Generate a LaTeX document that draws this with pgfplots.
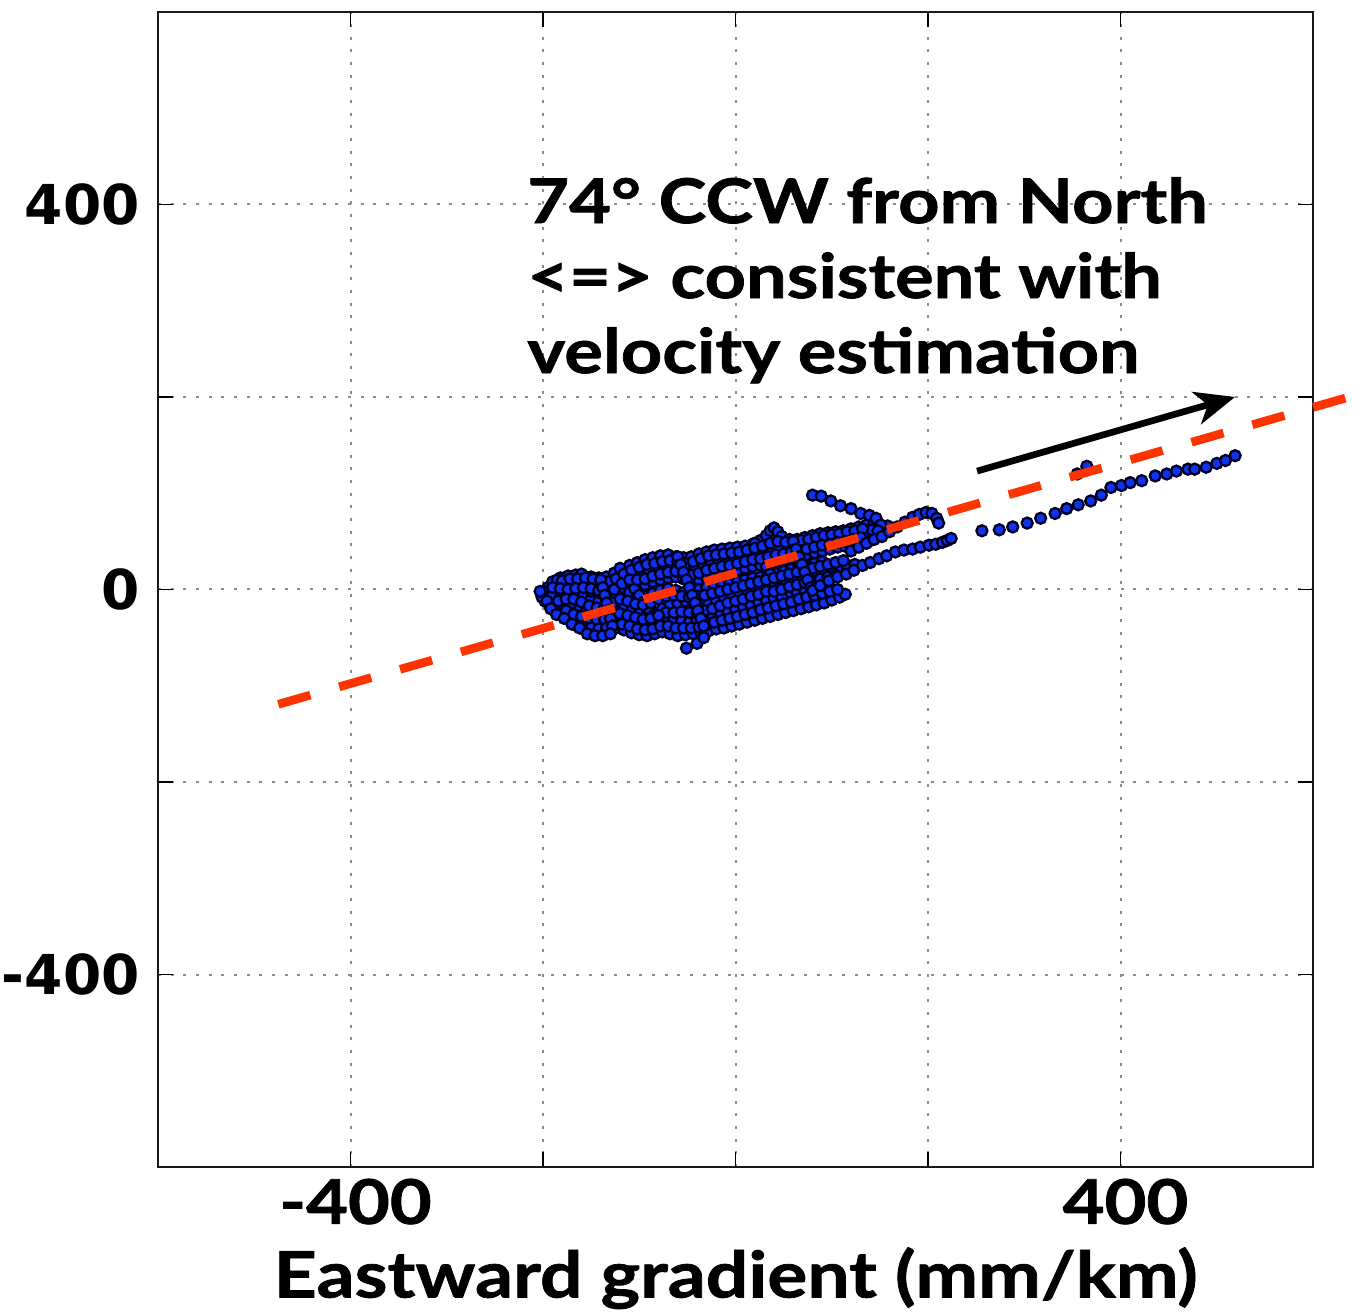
\documentclass[border=0pt]{standalone}
\usepackage{fontspec}
\setmainfont{Lato}[FakeStretch=1.17, BoldFeatures={FakeBold=1.2}]
\newfontfamily\dejavu{DejaVu Sans}
\usepackage{pgfplots}
\pgfplotsset{compat=1.18}
\usetikzlibrary{arrows.meta}
\definecolor{dotblue}{RGB}{15,50,240}
\definecolor{dotedge}{RGB}{0,0,35}
\definecolor{redline}{RGB}{255,51,0}
\begin{document}
\begin{tikzpicture}
\useasboundingbox (-47.4pt,-43.5pt) rectangle (358.5pt,350.1pt);
\begin{axis}[
  width=346.5pt, height=346.5pt, scale only axis,
  xmin=-600, xmax=600, ymin=-600, ymax=600,
  clip=false,
  xtick={-400,-200,0,200,400},
  xticklabels={-400,{},{},{},400},
  ytick={-400,-200,0,200,400},
  yticklabels={-400,{},0,{},400},
  tick align=inside, major tick length=4.5pt,
  tick style={black, line width=0.45pt},
  axis line style={line width=0.8pt, black!90},
  grid=major,
  major grid style={gray!90, line width=0.6pt, dash pattern=on 0.9pt off 2.9pt},
  xticklabel style={font=\fontsize{18.5}{20}\selectfont\bfseries, xshift=1.5pt},
  yticklabel style={font=\dejavu\fontsize{16.5}{18}\selectfont\bfseries, xshift=-2pt},
  xlabel={Eastward gradient (mm/km)},
  xlabel style={font=\fontsize{19.2}{21}\selectfont\bfseries},
]
\addplot[only marks, mark=*, mark size=1.65pt, mark options={fill=dotblue, draw=dotedge, line width=0.7pt}] coordinates {
(-195,2) (-190,8) (-182,12) (-174,14) (-166,15) (-158,14) (-150,13) (-142,12) (-134,13) (-126,17) (-118,21) (-110,25) (-102,28) (-94,31) (-86,33) (-78,35) (-70,36) (-62,34) (-54,33) (-46,34) (-38,37) (-30,39) (-22,41) (-14,42) (-6,43) (2,44) (10,45) (18,47) (26,51) (32,56) (36,61) (40,64) (44,60) (48,55) (56,52) (64,52) (72,54) (80,56) (88,58) (96,59) (104,60) (112,61) (120,63) (128,65) (136,67) (144,69)
(-200,-5) (-198,-12) (-192,-18) (-184,-22) (-176,-26) (-170,-32) (-164,-38) (-156,-42) (-148,-44) (-140,-45) (-132,-43) (-124,-40) (-116,-42) (-108,-45) (-100,-47) (-92,-48) (-84,-46) (-76,-44) (-68,-46) (-60,-48) (-52,-47) (-44,-46) (-36,-45) (-28,-43) (-20,-41) (-12,-40) (-4,-38) (4,-36) (12,-34) (20,-32) (28,-30) (36,-28) (44,-26) (52,-24) (60,-22) (68,-20) (76,-18) (84,-16) (92,-14) (100,-11) (108,-8) (114,-5)
(-185,10) (-178,6) (-170,4) (-162,6) (-154,9) (-146,8) (-138,5) (-130,3) (-122,6) (-114,10) (-106,14) (-98,17) (-90,20) (-82,22) (-74,24) (-66,25) (-58,24) (-50,22) (-42,24) (-34,27) (-26,30) (-18,31) (-10,32) (-2,33) (6,35) (14,37) (22,39) (30,40) (38,42) (46,44) (54,45) (62,46) (70,47) (78,48) (86,50) (94,52) (102,53) (110,55) (118,56) (126,58) (134,60) (142,62) (150,64) (158,66)
(-196,-2) (-190,-6) (-182,-8) (-174,-6) (-166,-4) (-158,-6) (-150,-10) (-142,-12) (-134,-10) (-126,-6) (-118,-2) (-110,1) (-102,3) (-94,5) (-86,8) (-78,10) (-70,12) (-62,13) (-54,11) (-46,9) (-38,10) (-30,12) (-22,14) (-14,16) (-6,18) (2,20) (10,22) (18,24) (26,25) (34,27) (42,29) (50,30) (58,32) (66,34) (74,36) (82,38) (90,40) (98,42) (106,44) (114,45) (122,46) (130,48) (138,50)
(-188,-16) (-180,-14) (-172,-16) (-164,-20) (-156,-24) (-148,-27) (-140,-28) (-132,-26) (-124,-22) (-116,-20) (-108,-22) (-100,-25) (-92,-26) (-84,-24) (-76,-20) (-68,-16) (-60,-14) (-52,-12) (-44,-14) (-36,-16) (-28,-15) (-20,-12) (-12,-9) (-4,-6) (4,-3) (12,0) (20,2) (28,4) (36,6) (44,8) (52,10) (60,12) (68,14) (76,15) (84,17) (92,19) (100,21) (108,22) (116,24) (124,26)
(-160,-34) (-152,-36) (-144,-37) (-136,-36) (-128,-32) (-120,-30) (-112,-32) (-104,-35) (-96,-37) (-88,-36) (-80,-33) (-72,-30) (-64,-31) (-56,-33) (-48,-34) (-40,-32) (-32,-29) (-24,-26) (-16,-24) (-8,-22) (0,-20) (8,-18) (16,-16) (24,-13) (32,-11) (40,-9) (48,-7) (56,-5) (64,-3) (72,-1) (80,1) (88,3) (96,5)
(-150,-2) (-142,-3) (-134,0) (-126,3) (-118,2) (-110,-3) (-102,-7) (-94,-7) (-86,-4) (-78,-1) (-70,1) (-62,-1) (-54,-3) (-46,-2) (-38,0) (-30,2) (-22,3) (-14,4) (-6,6) (2,8) (10,10) (18,12) (26,13) (34,15) (42,17) (50,19) (58,21) (66,23) (74,25) (82,27) (90,29)
(-72,-24) (-64,-24) (-56,-23) (-48,-24) (-40,-24) (-32,-22) (-24,-20) (-16,-17) (-8,-14) (0,-12) (8,-10) (16,-7) (24,-5) (32,-2)
(-120,22) (-115,15) (-110,8) (-105,1) (-100,-6) (-95,-13) (-90,-20) (-85,-27) (-80,-33)
(20,48) (24,40) (28,32) (32,24) (36,16) (40,8) (44,0) (48,-8)
(-160,16) (-164,10) (-166,4) (-168,-3) (-170,-10) (-172,-17) (-172,-24)
(-180,9) (-172,11) (-164,11) (-156,12) (-148,11) (-140,9) (-132,8) (-124,11) (-116,16) (-108,20) (-100,23) (-92,26) (-84,27) (-76,29) (-68,30) (-60,29) (-52,27) (-44,29) (-36,32) (-28,35) (-20,36) (-12,37) (-4,38) (4,39) (12,41) (20,43) (28,45) (36,48) (44,50) (52,49) (60,50) (68,51) (76,52) (84,54) (92,56) (100,57) (108,58) (116,60) (124,61) (132,63)
(-190,2) (-182,1) (-174,0) (-166,1) (-158,2) (-150,1) (-142,-1) (-134,-3) (-126,0) (-118,6) (-110,10) (-102,10) (-94,11) (-86,14) (-78,16) (-70,18) (-62,19) (-54,17) (-46,15) (-38,17) (-30,20) (-22,22) (-14,24) (-6,25) (2,27) (10,29) (18,31) (26,32) (34,34) (42,36) (50,37) (58,39) (66,40) (74,42) (82,44) (90,46) (98,47) (106,49) (114,50) (122,52) (130,54)
(-184,-12) (-176,-10) (-168,-10) (-160,-13) (-152,-17) (-144,-19) (-136,-18) (-128,-14) (-120,-10) (-112,-12) (-104,-15) (-96,-16) (-88,-14) (-80,-10) (-72,-7) (-64,-6) (-56,-7) (-48,-8) (-40,-7) (-32,-6) (-24,-4) (-16,-2) (-8,0) (0,2) (8,4) (16,6) (24,8) (32,10) (40,12) (48,14) (56,16) (64,18) (72,20) (80,22) (88,24) (96,26) (104,28) (112,30)
(-176,-22) (-168,-26) (-160,-28) (-152,-30) (-144,-32) (-136,-31) (-128,-28) (-120,-25) (-112,-27) (-104,-29) (-96,-31) (-88,-30) (-80,-27)
(40,-2) (48,0) (56,3) (64,5) (72,7) (80,9) (88,11) (96,13) (104,15)
(-150,-40) (-142,-41) (-134,-40) (-126,-37) (-118,-36) (-110,-38) (-102,-41) (-94,-42) (-86,-41) (-78,-38) (-70,-38) (-62,-40) (-54,-40) (-46,-40) (-38,-39) (-30,-36) (-22,-34) (-14,-32) (-6,-30) (2,-28) (10,-26) (18,-24) (26,-21) (34,-19) (42,-17) (50,-15) (58,-13) (66,-10) (74,-8) (82,-6) (90,-4) (98,-2) (106,0)
(-60,34) (-57,26) (-54,18) (-51,10) (-48,2) (-45,-6) (-42,-14) (-39,-22) (-36,-30) (-33,-38)
(60,50) (63,42) (66,34) (69,26) (72,18) (75,10) (78,2)
(-140,10) (-138,2) (-136,-6) (-134,-14) (-132,-22) (-130,-30) (-128,-38)
(80,98) (89,97) (99,92) (109,87) (120,84) (130,79) (139,77) (146,74) (151,67) (148,61)
(120,40) (128,44) (136,48) (144,52) (152,55) (160,60) (168,65) (176,70) (184,75) (191,78) (198,80) (204,79) (209,74) (211,69)
(80,-1) (88,4) (97,9) (106,13) (115,16) (123,20) (132,25) (140,28) (149,32) (157,35) (166,39) (175,41) (184,42) (192,44) (201,46) (208,47) (215,49) (220,51) (224,53)
(-51,-61) (-40,-56) (-33,-50)
(-201,-8) (-203,-2) (-196,-12) (-192,-20) (-186,-26) (-178,-30) (-170,-36) (-162,-40) (-154,-46) (-146,-48) (-138,-48) (-130,-46)
(256,61) (274,62) (288,65) (303,69) (317,74) (332,79) (344,84) (356,88) (369,92) (380,98) (390,106) (401,108) (410,111) (422,113) (436,118) (448,120) (458,123) (470,125) (477,125) (489,127) (500,131) (509,134) (519,139)
(355,120) (365,128)
};
\end{axis}
\begin{axis}[
  width=346.5pt, height=346.5pt, scale only axis,
  xmin=-600, xmax=600, ymin=-600, ymax=600,
  clip=false, hide axis,
]
\addplot[no marks, redline, line width=2.6pt, dash pattern=on 10pt off 9pt] coordinates {(-475,-119.3) (639,200.4)};
\draw[line width=2pt, -{Stealth[length=12pt,width=10pt,inset=3.5pt]}] (axis cs:251,123) -- (axis cs:519,200);
\node[anchor=north west, align=left, inner sep=0pt, font=\fontsize{18.5}{22.5}\selectfont\bfseries] at (axis cs:-217,429) {74° CCW from North\\<=> consistent with\\velocity estimation};
\end{axis}
\end{tikzpicture}
\end{document}
